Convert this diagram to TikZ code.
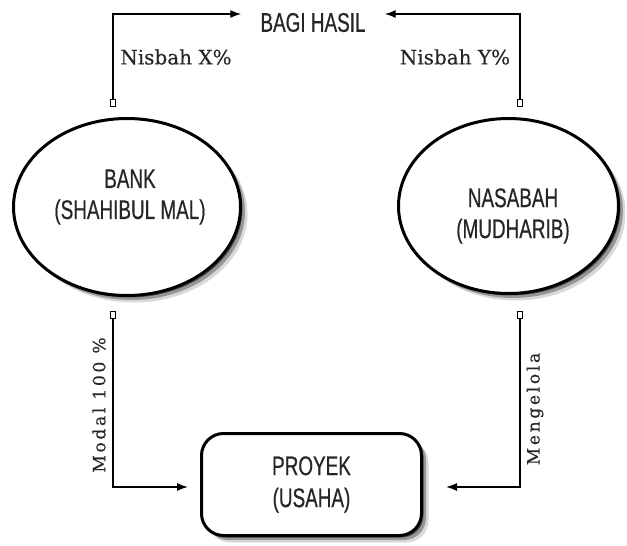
\documentclass[tikz,border=0pt]{standalone}
\usepackage{fontspec}
\setmainfont{Liberation Sans}
\newfontfamily\condfont[FakeStretch=0.7,FakeBold=0.5]{Liberation Sans}
\newfontfamily\labfont[FakeBold=0.3]{DejaVu Serif}
\newfontfamily\vlabfont[LetterSpace=16,FakeBold=0.4]{DejaVu Serif}
\usetikzlibrary{arrows.meta,shadows,shapes.geometric}
\tikzset{
  softshadow/.style={
    general shadow={shadow xshift=2pt,shadow yshift=-2pt,fill=black,opacity=.5},
    general shadow={shadow xshift=4.5pt,shadow yshift=-4.5pt,fill=black,opacity=.3},
    general shadow={shadow xshift=7pt,shadow yshift=-7pt,fill=black,opacity=.15}},
  oval/.style={ellipse, draw, line width=3pt, fill=white, inner sep=0pt, softshadow},
  projbox/.style={rectangle, rounded corners=22pt, draw, line width=3pt, fill=white,
    minimum width=220pt, minimum height=102pt, align=center, softshadow,
    font=\condfont\fontsize{27}{32}\selectfont, text=black!85},
  maintext/.style={align=center, inner sep=0pt, font=\condfont\fontsize{27}{31}\selectfont, text=black!85},
  term/.style={rectangle, draw, line width=1pt, fill=white, minimum width=5pt, minimum height=7pt, inner sep=0pt},
  conn/.style={line width=1.4pt, -{Latex[length=11pt,width=8pt]}},
  lab/.style={inner sep=0pt, font=\labfont\fontsize{20}{22}\selectfont, text=black!85},
  vlab/.style={inner sep=0pt, rotate=90, font=\vlabfont\fontsize{17}{19}\selectfont, text=black!85},
}
\begin{document}
\begin{tikzpicture}[x=1pt,y=-1pt]
\useasboundingbox (0,0) rectangle (627,546);
% nodes
\node[maintext, inner xsep=19pt, inner ysep=4pt] (bagi) at (313,22.5) {BAGI HASIL};
\node[oval, minimum width=227pt, minimum height=177pt] (bank) at (127,207) {};
\node[maintext] (banktxt) at (130,197) {BANK\\(SHAHIBUL MAL)};
\node[oval, minimum width=220pt, minimum height=175pt] (nasabah) at (508.5,206) {};
\node[maintext] (nastxt) at (513,216) {NASABAH\\(MUDHARIB)};
\node[projbox] (proyek) at (311.5,484.5) {PROYEK\\(USAHA)};
% terminals
\node[term] (tl) at (113,103) {};
\node[term] (tr) at (520,103) {};
\node[term] (bl) at (113,315) {};
\node[term] (br) at (520,315) {};
% labels
\node[lab] (nx) at (176,57) {Nisbah X\%};
\node[lab] (ny) at (455,57) {Nisbah Y\%};
\node[vlab] (modal) at (99,405) {Modal 100 \%};
\node[vlab] (kelola) at (535,409) {Mengelola};
% connectors
\draw[conn] (tl.north) |- ([yshift=8.5pt]bagi.west);
\draw[conn] (tr.north) |- ([yshift=8.5pt]bagi.east);
\draw[conn, shorten >=12pt] (bl.south) |- ([yshift=-2.5pt]proyek.west);
\draw[conn, shorten >=23pt] (br.south) |- ([yshift=-2.5pt]proyek.east);
\end{tikzpicture}
\end{document}
